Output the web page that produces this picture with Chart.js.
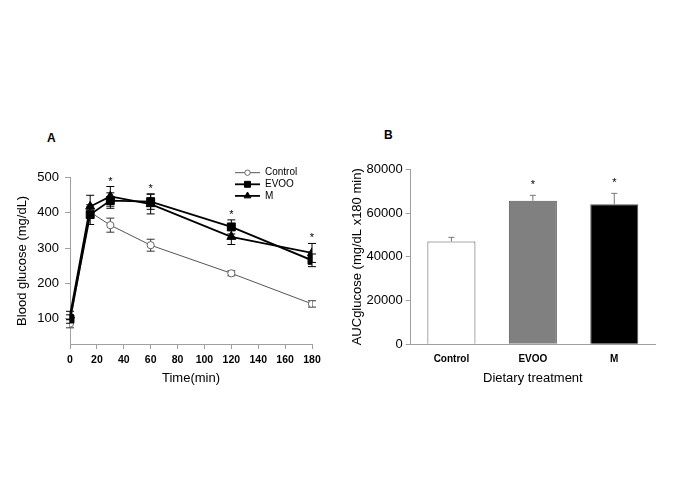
<!DOCTYPE html>
<html>
<head>
<meta charset="utf-8">
<script src="https://cdn.jsdelivr.net/npm/chart.js"></script>
<style>
  body { margin: 0; background: #fff; width: 685px; height: 484px; position: relative; overflow: hidden; }
  .box { position: absolute; }
  .panel { position: absolute; font: bold 12px Arial, "Liberation Sans", sans-serif; }
</style>
</head>
<body>
<div class="panel" style="left:47px; top:131px;">A</div>
<div class="panel" style="left:384px; top:128px;">B</div>
<div class="box" style="left:0px; top:120px; width:340px; height:300px;"><canvas id="glucoseChart"></canvas></div>
<div class="box" style="left:340px; top:120px; width:345px; height:300px;"><canvas id="aucChart"></canvas></div>
<script>
// ---------- data (panel A) ----------
const timePoints = [0, 15, 30, 60, 120, 180];
const controlMean = [85, 402, 365, 308, 228, 141];
const controlErr = [12, 15, 20, 17, 7, 9];
const evooMean = [98, 395, 435, 432, 360, 265];
const evooErr = [12, 28, 22, 22, 20, 18];
const mMean = [108, 418, 447, 425, 332, 286];
const mErr = [12, 32, 28, 28, 22, 27];
const sigTime = [false, false, true, true, true, true];
const yTicksA = [100, 200, 300, 400, 500];

// ---------- data (panel B) ----------
const groups = ["Control", "EVOO", "M"];
const aucMean = [47000, 65600, 64000];
const aucErr = [1900, 2500, 5000];
const sigGroup = [false, true, true];

const FONT = "Arial, 'Liberation Sans', sans-serif";
Chart.defaults.font.family = FONT;
Chart.defaults.color = "#000";
const AXIS = "#a0a0a0";

const toPoints = (arr) => arr.map((v, i) => ({ x: timePoints[i], y: v }));

// error bars, drawn under markers
const lineErrorBars = {
    id: "lineErrorBars",
    beforeDatasetsDraw(chart) {
        const { ctx, scales: { x, y } } = chart;
        ctx.save();
        chart.data.datasets.forEach(ds => {
            ctx.strokeStyle = ds.errColor;
            ctx.lineWidth = 1;
            ds.means.forEach((m, i) => {
                const px = x.getPixelForValue(timePoints[i]);
                const top = y.getPixelForValue(m + ds.errs[i]);
                const bot = y.getPixelForValue(m - ds.errs[i]);
                ctx.beginPath();
                ctx.moveTo(px, top); ctx.lineTo(px, bot);
                ctx.moveTo(px - 4, top); ctx.lineTo(px + 4, top);
                ctx.moveTo(px - 4, bot); ctx.lineTo(px + 4, bot);
                ctx.stroke();
            });
        });
        ctx.restore();
    },
    afterDatasetsDraw(chart) {
        const { ctx, scales: { x, y } } = chart;
        ctx.save();
        ctx.fillStyle = "#000";
        ctx.font = "11px " + FONT;
        ctx.textAlign = "center";
        ctx.textBaseline = "middle";
        sigTime.forEach((s, i) => {
            if (!s) return;
            let top = Infinity;
            chart.data.datasets.forEach(ds => {
                top = Math.min(top, y.getPixelForValue(ds.means[i] + ds.errs[i]));
            });
            ctx.fillText("*", x.getPixelForValue(timePoints[i]), top - 5);
        });
        ctx.restore();
    },
    afterDraw(chart) {
        // legend: line + marker + label
        const { ctx } = chart;
        ctx.save();
        ctx.font = "10px " + FONT;
        ctx.textBaseline = "middle";
        chart.data.datasets.forEach((ds, i) => {
            const yy = 52.7 + i * 11.6;
            ctx.strokeStyle = ds.borderColor;
            ctx.lineWidth = ds.borderWidth;
            ctx.beginPath();
            ctx.moveTo(235, yy); ctx.lineTo(260, yy);
            ctx.stroke();
            ctx.fillStyle = ds.pointBackgroundColor;
            ctx.strokeStyle = ds.pointBorderColor;
            ctx.lineWidth = 1;
            Chart.helpers.drawPoint(ctx, { pointStyle: ds.pointStyle, radius: ds.pointRadius * 0.75, rotation: 0, borderWidth: 1 }, 247.5, yy);
            ctx.fillStyle = "#000";
            ctx.fillText(ds.label, 265, yy);
        });
        ctx.restore();
    }
};

new Chart(document.getElementById("glucoseChart"), {
    type: "line",
    data: {
        datasets: [
            {
                label: "Control", data: toPoints(controlMean), means: controlMean, errs: controlErr,
                borderColor: "#555", borderWidth: 1, errColor: "#333",
                pointStyle: "circle", pointRadius: 3.6, pointBackgroundColor: "#fff", pointBorderColor: "#666", pointBorderWidth: 1,
                order: 3
            },
            {
                label: "EVOO", data: toPoints(evooMean), means: evooMean, errs: evooErr,
                borderColor: "#000", borderWidth: 1.8, errColor: "#000",
                pointStyle: "rect", pointRadius: 5.6, pointBackgroundColor: "#000", pointBorderColor: "#000", pointBorderWidth: 1,
                order: 2
            },
            {
                label: "M", data: toPoints(mMean), means: mMean, errs: mErr,
                borderColor: "#000", borderWidth: 1.8, errColor: "#000",
                pointStyle: "triangle", pointRadius: 5.2, pointBackgroundColor: "#000", pointBorderColor: "#000", pointBorderWidth: 1,
                order: 1
            }
        ]
    },
    options: {
        responsive: true,
        maintainAspectRatio: false,
        animation: false,
        layout: { padding: { top: 57.7, right: 28, left: 0, bottom: 0 } },
        plugins: { legend: { display: false }, tooltip: { enabled: false } },
        scales: {
            x: {
                type: "linear", min: 0, max: 180,
                ticks: { stepSize: 20, padding: 5, font: { size: 10.5, weight: "bold" } },
                grid: { display: true, drawOnChartArea: false, tickLength: 5, color: AXIS },
                border: { color: AXIS },
                title: { display: true, text: "Time(min)", font: { size: 13 }, padding: { top: 0, bottom: 34 } },
                afterFit: (s) => { s.height = 76; }
            },
            y: {
                min: 27, max: 500,
                afterBuildTicks: (s) => { s.ticks = yTicksA.map(v => ({ value: v })); },
                ticks: { padding: 6, font: { size: 13 } },
                grid: { display: true, drawOnChartArea: false, tickLength: 5, color: AXIS },
                border: { color: AXIS },
                title: { display: true, text: "Blood glucose (mg/dL)", font: { size: 13 }, padding: { top: 15, bottom: 0 } },
                afterFit: (s) => { s.width = 70; }
            }
        }
    },
    plugins: [lineErrorBars]
});

// ---------- panel B ----------
const barErrorBars = {
    id: "barErrorBars",
    afterDatasetsDraw(chart) {
        const { ctx, scales: { y } } = chart;
        const meta = chart.getDatasetMeta(0);
        ctx.save();
        ctx.strokeStyle = "#777";
        ctx.lineWidth = 1;
        ctx.fillStyle = "#000";
        ctx.font = "11px " + FONT;
        ctx.textAlign = "center";
        ctx.textBaseline = "middle";
        meta.data.forEach((bar, i) => {
            const top = y.getPixelForValue(aucMean[i] + aucErr[i]);
            const base = y.getPixelForValue(aucMean[i]);
            ctx.beginPath();
            ctx.moveTo(bar.x, base); ctx.lineTo(bar.x, top);
            ctx.moveTo(bar.x - 3, top); ctx.lineTo(bar.x + 3, top);
            ctx.stroke();
            if (sigGroup[i]) ctx.fillText("*", bar.x, top - 10);
        });
        ctx.restore();
    }
};

new Chart(document.getElementById("aucChart"), {
    type: "bar",
    data: {
        labels: groups,
        datasets: [{
            data: aucMean,
            backgroundColor: ["#ffffff", "#808080", "#000000"],
            borderColor: "#555",
            borderWidth: 1,
            categoryPercentage: 1,
            barPercentage: 0.59
        }]
    },
    options: {
        responsive: true,
        maintainAspectRatio: false,
        animation: false,
        layout: { padding: { top: 49.3, right: 30, left: 0, bottom: 0 } },
        plugins: { legend: { display: false }, tooltip: { enabled: false } },
        scales: {
            x: {
                ticks: { padding: 1, font: { size: 10, weight: "bold" } },
                grid: { display: false },
                border: { color: AXIS },
                title: { display: true, text: "Dietary treatment", font: { size: 13 }, padding: { top: 0, bottom: 34 } },
                afterFit: (s) => { s.height = 75.7; }
            },
            y: {
                min: 0, max: 80000,
                ticks: { stepSize: 20000, padding: 3, font: { size: 13 }, callback: (v) => String(v) },
                grid: { display: true, drawOnChartArea: false, tickLength: 5, color: AXIS },
                border: { color: AXIS },
                title: { display: true, text: "AUCglucose (mg/dL x180 min)", font: { size: 13 }, padding: { top: 10, bottom: 0 } },
                afterFit: (s) => { s.width = 70.7; }
            }
        }
    },
    plugins: [barErrorBars]
});
</script>
</body>
</html>
